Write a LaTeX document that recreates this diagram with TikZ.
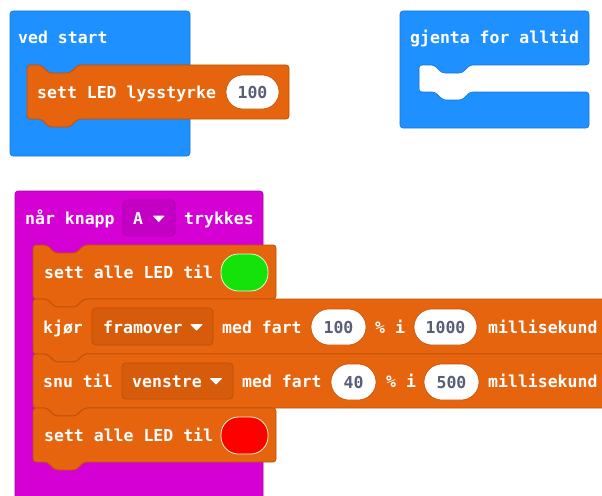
\documentclass[tikz,border=0pt]{standalone}
\usepackage{fontspec}
\setmonofont{DejaVu Sans Mono}
\definecolor{mcblue}{RGB}{30,144,255}
\definecolor{mcblueline}{RGB}{24,118,214}
\definecolor{mcorange}{RGB}{229,100,13}
\definecolor{mcorangeline}{RGB}{190,80,8}
\definecolor{mcorangedd}{RGB}{214,92,12}
\definecolor{mcmag}{RGB}{212,0,212}
\definecolor{mcmagline}{RGB}{170,0,170}
\definecolor{mcmagdd}{RGB}{196,0,196}
\definecolor{pilltext}{RGB}{87,94,117}
\definecolor{ledgreen}{RGB}{20,226,8}
\definecolor{ledred}{RGB}{255,0,0}
\tikzset{
  blocktxt/.style={font=\ttfamily\bfseries\fontsize{16.5}{18}\selectfont, text=white, anchor=west, inner sep=0pt, text height=12pt, text depth=3pt, yshift=-1.5pt},
  pilltxt/.style={font=\ttfamily\bfseries\fontsize{16.5}{18}\selectfont, text=pilltext, anchor=center, inner sep=0pt, text height=12pt, text depth=3pt, yshift=-1.5pt},
  stmtblock/.style={fill=mcorange, draw=mcorangeline, line width=0.8pt, rounded corners=3pt},
  pill/.style={fill=white, draw=mcorangeline, line width=0.6pt},
  orangedd/.style={fill=mcorangedd, draw=mcorangeline, line width=0.8pt, rounded corners=4pt},
  magdd/.style={fill=mcmagdd, draw=mcmagline, line width=0.8pt, rounded corners=4pt},
  ddarrow/.style={fill=white, draw=white, line width=0.8pt, line join=round},
  led/.style={draw=white!85!green, line width=0.8pt, rounded corners=17.5pt}
}
\newcommand\stmtshape[4]{% L T R B
  \draw[stmtblock] (#1,#4) -- (#1,#2) -- ({#1+14},#2) -- ({#1+22},{#2+8}) -- ({#1+43},{#2+8}) -- ({#1+51},#2) -- (#3,#2) -- (#3,#4) -- ({#1+51},#4) -- ({#1+43},{#4+8}) -- ({#1+22},{#4+8}) -- ({#1+14},#4) -- cycle;}
\newcommand\pillshape[4]{% x1 y1 x2 y2
  \draw[pill, rounded corners={(#4-#2)/2*1pt}] (#1,#2) rectangle (#3,#4);}
\begin{document}
\begin{tikzpicture}[x=1pt,y=-1pt]
\useasboundingbox (0,0) rectangle (602,495);
\clip (0,0) rectangle (602,495);
\fill[white] (0,0) rectangle (602,495);

% ---- ved start ----
\draw[fill=mcblue, draw=mcblueline, line width=0.6pt, rounded corners=3pt] (10,11) rectangle (190,156);
\node[blocktxt] (vedstart) at (18,38) {ved start};
\stmtshape{27}{65}{289}{119}
\node[blocktxt] (settled) at (37,92) {sett LED lysstyrke};
\pillshape{226}{75}{279}{109}
\node[pilltxt] (p100a) at (252.5,92) {100};

% ---- gjenta for alltid ----
\draw[fill=mcblue, draw=mcblueline, line width=0.6pt, rounded corners=3pt]
  (400,11) -- (589,11) -- (589,65) -- (470,65) -- (462,73) -- (442,73) -- (434,65) -- (419,65)
  -- (419,92) -- (435,92) -- (443,100) -- (462,100) -- (470,92) -- (589,92) -- (589,128) -- (400,128) -- cycle;
\node[blocktxt] (gjenta) at (410,38) {gjenta for alltid};

% ---- når knapp A trykkes ----
\draw[fill=mcmag, draw=mcmagline, line width=0.6pt, rounded corners=3pt] (15,191) rectangle (263,520);
\node[blocktxt] (naar) at (25,218) {når knapp};
\draw[magdd] (123,200) rectangle (175,236);
\node[blocktxt] (knA) at (133,218) {A};
\draw[ddarrow] (153.5,216) -- (164,216) -- (158.75,221.5) -- cycle;
\node[blocktxt] (trykkes) at (184,218) {trykkes};

% row 1
\stmtshape{33}{245}{276}{299}
\node[blocktxt] (r1txt) at (44,272) {sett alle LED til};
\draw[led, fill=ledgreen] (221,254) rectangle (268,291);
\node (greenled) at (244.5,272.5) {};

% row 2
\stmtshape{33}{299}{640}{354}
\node[blocktxt] (kjor) at (43,327) {kjør};
\draw[orangedd] (92,308) rectangle (213,345);
\node[blocktxt] (framover) at (103,327) {framover};
\draw[ddarrow] (191,324.5) -- (202,324.5) -- (196.5,330) -- cycle;
\node[blocktxt] (medfart1) at (222,327) {med fart};
\pillshape{311}{309}{366}{345}
\node[pilltxt] (p100b) at (338.5,327) {100};
\node[blocktxt] (pct1) at (375,327) {\% i};
\pillshape{414}{309}{477}{345}
\node[pilltxt] (p1000) at (445.5,327) {1000};
\node[blocktxt] (ms1) at (488,327) {millisekund};

% row 3
\stmtshape{33}{354}{640}{408}
\node[blocktxt] (snutil) at (43,381) {snu til};
\draw[orangedd] (122,363) rectangle (233,399);
\node[blocktxt] (venstre) at (132,381) {venstre};
\draw[ddarrow] (210.5,378.5) -- (221.5,378.5) -- (216,384) -- cycle;
\node[blocktxt] (medfart2) at (242,381) {med fart};
\pillshape{331}{364}{376}{400}
\node[pilltxt] (p40) at (353.5,382) {40};
\node[blocktxt] (pct2) at (386,381) {\% i};
\pillshape{424}{364}{479}{400}
\node[pilltxt] (p500) at (451.5,382) {500};
\node[blocktxt] (ms2) at (488,381) {millisekund};

% row 4
\stmtshape{33}{408}{276}{462}
\node[blocktxt] (r4txt) at (44,435) {sett alle LED til};
\draw[led, fill=ledred] (221,417) rectangle (268,454);
\node (redled) at (244.5,435.5) {};
\end{tikzpicture}
\end{document}
